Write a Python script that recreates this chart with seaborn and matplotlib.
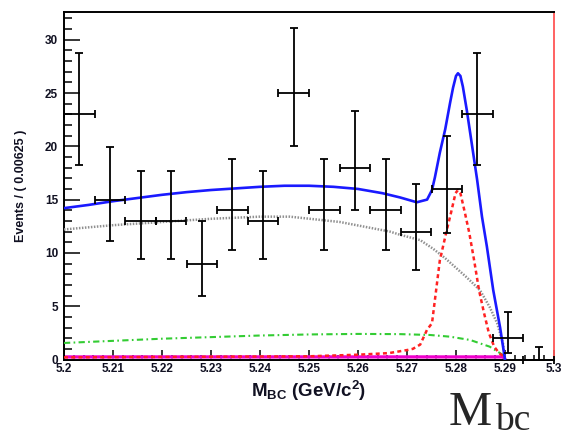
import numpy as np
import pandas as pd
import matplotlib
matplotlib.use("Agg")
import matplotlib.pyplot as plt
import seaborn as sns
from matplotlib.ticker import MultipleLocator, FixedLocator

# ---------------- data ----------------
bin_centers = [5.203125, 5.209375, 5.215625, 5.221875, 5.228125, 5.234375,
               5.240625, 5.246875, 5.253125, 5.259375, 5.265625, 5.271875,
               5.278125, 5.284375, 5.290625, 5.296875]
events = [23, 15, 13, 13, 9, 14, 13, 25, 14, 18, 14, 12, 16, 23, 2, 0]
err_lo_edge = [18.2, 11.1, 9.4, 9.4, 6.0, 10.3, 9.4, 20.0, 10.3, 14.0, 10.3,
               8.4, 11.9, 18.2, 0.6, 0.0]
err_hi_edge = [28.8, 19.9, 17.7, 17.7, 13.0, 18.8, 17.7, 31.1, 18.8, 23.3,
               18.8, 16.5, 21.0, 28.8, 4.5, 1.15]
bin_half_width = 0.003125

total_x = [5.2000, 5.2050, 5.2100, 5.2150, 5.2200, 5.2250, 5.2300, 5.2350,
           5.2400, 5.2450, 5.2500, 5.2550, 5.2600, 5.2650, 5.2686, 5.2720,
           5.2741, 5.2751, 5.2757, 5.2767, 5.2778, 5.2788, 5.2794, 5.2800,
           5.2804, 5.2809, 5.2814, 5.2822, 5.2833, 5.2843, 5.2853, 5.2863,
           5.2876, 5.2890, 5.2900]
total_y = [14.2, 14.5, 14.85, 15.15, 15.45, 15.7, 15.9, 16.05,
           16.2, 16.3, 16.3, 16.2, 16.0, 15.6, 15.2, 14.75,
           15.0, 15.9, 17.1, 19.4, 21.6, 24.1, 25.5, 26.6,
           26.85, 26.6, 25.6, 23.4, 20.0, 16.9, 13.4, 10.6,
           6.5, 3.0, 0.0]

argus_x = [5.200, 5.210, 5.220, 5.230, 5.240, 5.2461, 5.2563, 5.2665, 5.2686,
           5.2727, 5.2753, 5.2778, 5.2822, 5.2849, 5.2869, 5.2884, 5.2896, 5.2900]
argus_y = [12.2, 12.6, 12.9, 13.2, 13.4, 13.4, 12.9, 12.0, 11.7,
           11.2, 10.4, 9.5, 7.7, 6.5, 4.9, 3.4, 1.5, 0.0]

bkg2_x = [5.200, 5.210, 5.220, 5.230, 5.240, 5.250, 5.260, 5.2686, 5.2747,
          5.2788, 5.2829, 5.2869, 5.2896, 5.2900]
bkg2_y = [1.55, 1.75, 1.95, 2.1, 2.25, 2.35, 2.4, 2.38, 2.3,
          2.14, 1.83, 1.2, 0.42, 0.0]

sig_x = [5.200, 5.250, 5.260, 5.2663, 5.2702, 5.2712, 5.2727, 5.2741, 5.2751,
         5.2757, 5.2767, 5.2780, 5.2790, 5.2799, 5.2804, 5.2809, 5.2818,
         5.2827, 5.2837, 5.2847, 5.2857, 5.2867, 5.2878, 5.2888, 5.2900]
sig_y = [0.2, 0.3, 0.45, 0.6, 0.9, 1.0, 1.4, 2.8, 3.4,
         5.6, 9.3, 11.9, 13.8, 15.6, 15.9, 15.6, 13.8,
         11.9, 9.3, 6.5, 4.4, 2.5, 1.2, 0.6, 0.2]

peak_bkg_x = [5.200, 5.250, 5.2895, 5.2900]
peak_bkg_y = [0.25, 0.25, 0.25, 0.05]

xtick_vals = [5.20, 5.21, 5.22, 5.23, 5.24, 5.25, 5.26, 5.27, 5.28, 5.29, 5.30]
xtick_labels = ["5.2", "5.21", "5.22", "5.23", "5.24", "5.25", "5.26",
                "5.27", "5.28", "5.29", "5.3"]
ytick_vals = [0, 5, 10, 15, 20, 25, 30]

# ---------------- figure ----------------
sns.set_theme(style="white")
plt.rcParams["font.family"] = ["Liberation Sans", "DejaVu Sans"]
plt.rcParams["mathtext.fontset"] = "custom"
plt.rcParams["mathtext.rm"] = "Liberation Sans:bold"
plt.rcParams["mathtext.bf"] = "Liberation Sans:bold"
plt.rcParams["mathtext.it"] = "Liberation Sans:bold"

fig = plt.figure(figsize=(5.62, 4.40), dpi=100)
ax = fig.add_axes([64 / 562, 1 - 359.5 / 440, 490 / 562, 347.5 / 440])

# magenta peaking background band
ax.fill_between(peak_bkg_x, 0, [v + 0.15 for v in peak_bkg_y], color="#ff99ee",
                alpha=0.7, lw=0, zorder=1)
sns.lineplot(x=peak_bkg_x, y=peak_bkg_y, ax=ax, color="#ee00cc", lw=2.2,
             errorbar=None, zorder=2)

sns.lineplot(x=bkg2_x, y=bkg2_y, ax=ax, color="#33cc33", lw=1.5,
             linestyle=(0, (3.0, 1.6, 0.8, 1.6)), errorbar=None, zorder=3)
sns.lineplot(x=argus_x, y=argus_y, ax=ax, color="#909090", lw=1.8,
             linestyle=(0, (0.6, 0.6)), errorbar=None, zorder=3)
sns.lineplot(x=sig_x, y=sig_y, ax=ax, color="#ff2222", lw=1.8,
             linestyle=(0, (1.6, 1.3)), errorbar=None, zorder=4)
sns.lineplot(x=total_x, y=total_y, ax=ax, color="#1a1aff", lw=1.9,
             errorbar=None, zorder=5)

ev = np.array(events, dtype=float)
yerr = [ev - np.array(err_lo_edge), np.array(err_hi_edge) - ev]
ax.errorbar(bin_centers, ev, xerr=bin_half_width, yerr=yerr, fmt="none",
            ecolor="black", elinewidth=1.3, capsize=2.6, capthick=1.3,
            zorder=6, clip_on=False)

ax.set_xlim(5.2, 5.3)
ax.set_ylim(0, 32.6)

ax.xaxis.set_major_locator(FixedLocator(xtick_vals))
ax.set_xticklabels(xtick_labels)
ax.xaxis.set_minor_locator(MultipleLocator(0.002))
ax.yaxis.set_major_locator(FixedLocator(ytick_vals))
ax.yaxis.set_minor_locator(MultipleLocator(1))

ax.tick_params(which="both", direction="in", color="black", width=1.1,
               bottom=True, left=True, top=False, right=False)
ax.tick_params(axis="x", which="major", length=7, pad=2.5, labelsize=8.5)
ax.tick_params(axis="x", which="minor", length=3.6)
ax.tick_params(axis="y", which="major", length=11.5, pad=4.2, labelsize=8.5)
ax.tick_params(axis="y", which="minor", length=5.5)
for lab in ax.get_xticklabels() + ax.get_yticklabels():
    lab.set_fontweight("bold")
    lab.set_color("#111122")

for side in ["left", "bottom", "top"]:
    ax.spines[side].set_color("black")
    ax.spines[side].set_linewidth(1.4)
ax.spines["right"].set_color("#ff5555")
ax.spines["right"].set_linewidth(1.3)

ax.set_xlabel(r"M$_{\mathbf{BC}}$ (GeV/c$^{\mathbf{2}}$)", fontsize=13.5,
              fontweight="bold", color="#111122")
ax.xaxis.set_label_coords(0.5, -0.055)
ax.set_ylabel("Events / ( 0.00625 )", fontsize=9, fontweight="bold",
              color="#111122")
ax.yaxis.set_label_coords(-0.076, 0.5)

fig.text(449 / 562, 1 - 425 / 440, "M", family="Liberation Serif",
         fontsize=35, va="baseline", ha="left")
fig.text(495 / 562, 1 - 430 / 440, "bc", family="Liberation Serif",
         fontsize=27, va="baseline", ha="left")

fig.savefig("out.png", dpi=100)
